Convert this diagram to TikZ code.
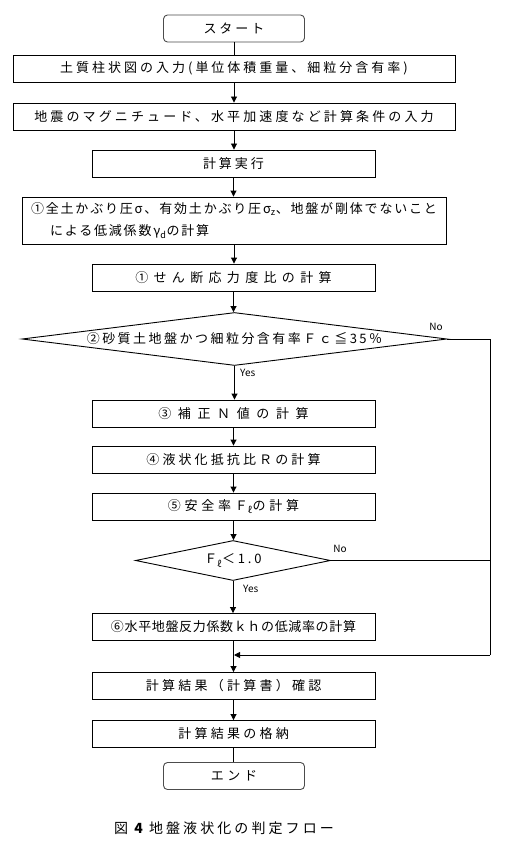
\documentclass[tikz,border=0pt]{standalone}
\usepackage{fontspec}
\setmainfont{Noto Sans CJK JP}
\usetikzlibrary{arrows.meta,shapes.geometric}
\newcommand\lsp[2]{{\addfontfeatures{LetterSpace=#1}#2}}
\begin{document}
\begin{tikzpicture}[x=1pt,y=-1pt,
  box/.style={draw, line width=0.9pt, minimum height=27pt, inner sep=0pt, font=\fontsize{13}{15}\selectfont},
  term/.style={box, rounded corners=4pt, draw=black!70, minimum width=141pt},
  wide/.style={box, minimum width=442pt},
  mid/.style={box, minimum width=283pt},
  dec/.style={diamond, draw, line width=0.9pt, inner sep=0pt, shape aspect=8, font=\fontsize{13}{15}\selectfont},
  arr/.style={-{Triangle[width=6pt,length=6pt]}, line width=0.9pt},
  plain/.style={line width=0.9pt},
  lab/.style={font=\fontsize{10}{11}\selectfont, inner sep=0pt}]
\useasboundingbox (0,0) rectangle (504,845);
\fill[white] (0,0) rectangle (504,845);

\node[term] (start) at (234,28.5) {\lsp{23}{スタート}};
\node[wide] (b1) at (234,68.5) {\lsp{23}{土質柱状図の入力(単位体積重量、細粒分含有率)}};
\node[wide] (b2) at (234,116.5) {\lsp{24}{地震のマグニチュード、水平加速度など計算条件の入力}};
\node[mid] (b3) at (233.5,163.5) {\lsp{23}{計算実行}};
\node[box, minimum width=424pt, minimum height=47pt, align=left, font=\fontsize{13}{22}\selectfont] (b4) at (234,220.5)
  {\lsp{14}{①全土かぶり圧σ、有効土かぶり圧σ\textsubscript{z}、地盤が剛体でないこと}\\\hspace{19pt}\lsp{14}{による低減係数γ\textsubscript{d}の計算}};
\node[mid] (b5) at (233.5,277.5) {\lsp{41}{①せん断応力度比の計算}};
\node[dec, minimum width=425pt, minimum height=53pt] (d1) at (234.5,339) {\lsp{19}{②砂質土地盤かつ細粒分含有率Ｆｃ≦35％}};
\node[mid] (b6) at (233.5,413.5) {\lsp{51}{③補正Ｎ値の計算}};
\node[mid] (b7) at (233.5,459.5) {\lsp{24}{④液状化抵抗比Ｒの計算}};
\node[mid] (b8) at (233.5,506.5) {\lsp{29}{⑤安全率Ｆ\textsubscript{ℓ}の計算}};
\node[dec, minimum width=195pt, minimum height=40pt] (d2) at (233,560.5) {\lsp{22}{Ｆ\textsubscript{ℓ}＜1.0}};
\node[mid] (b9) at (233.5,627) {\lsp{5}{⑥水平地盤反力係数ｋｈの低減率の計算}};
\node[mid] (b10) at (233.5,686) {\lsp{25}{計算結果（計算書）確認}};
\node[mid] (b11) at (233.5,734) {\lsp{25}{計算結果の格納}};
\node[term] (end) at (234,776) {\lsp{27}{エンド}};

\node[lab, anchor=west] (yes1) at (240,373) {Yes};
\node[lab, anchor=west] (yes2) at (243,589) {Yes};
\node[lab] (no1) at (436,327) {No};
\node[lab] (no2) at (340,549) {No};

\coordinate (r1) at (490,339);
\coordinate (r2) at (490,655);
\coordinate (m) at (234,655);

\draw[plain] (start.south) -- (start.south |- b1.north);
\draw[arr] (b1.south) -- (b1.south |- b2.north);
\draw[arr] (b2.south) -- (b2.south |- b3.north);
\draw[arr] (b3.south) -- (b3.south |- b4.north);
\draw[arr] (b4.south) -- (b4.south |- b5.north);
\draw[arr] (b5.south) -- (b5.south |- d1.north);
\draw[arr] (d1.south) -- (d1.south |- b6.north);
\draw[arr] (b6.south) -- (b7.north);
\draw[arr] (b7.south) -- (b8.north);
\draw[arr] (b8.south) -- (b8.south |- d2.north);
\draw[arr] (d2.south) -- (d2.south |- b9.north);
\draw[arr] (b9.south) -- (b10.north);
\draw[arr] (b10.south) -- (b11.north);
\draw[plain] (b11.south) -- (b11.south |- end.north);
\draw[plain] (d1.east) -- (r1) -- (r2);
\draw[plain] (d2.east) -- (d2.east -| r1);
\draw[arr] (r2) -- (m);

\node[font=\fontsize{14}{16}\selectfont] (cap) at (224,828) {\lsp{22}{図 {\bfseries 4} 地盤液状化の判定フロー}};
\end{tikzpicture}
\end{document}
